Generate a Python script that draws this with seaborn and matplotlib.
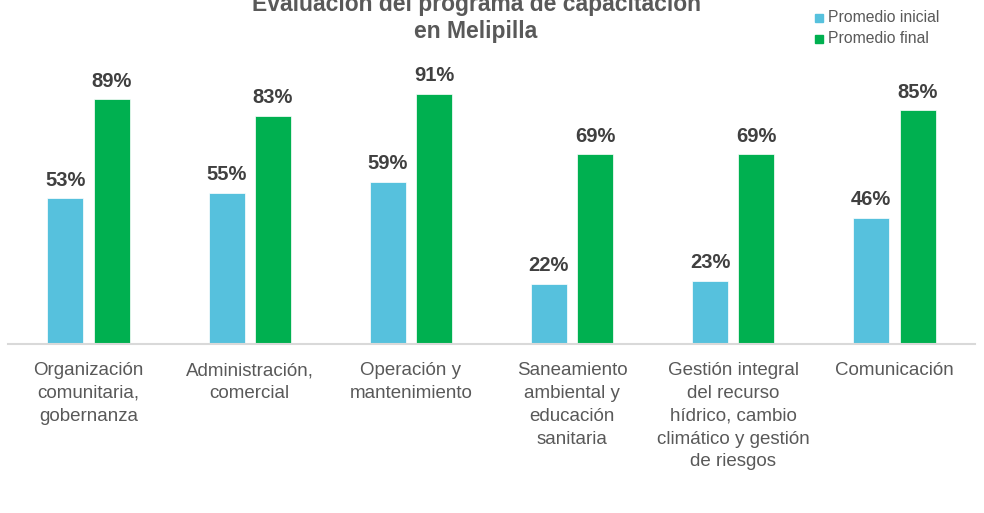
import matplotlib
matplotlib.use('Agg')
import matplotlib.pyplot as plt
import pandas as pd
import seaborn as sns

categorias = [
    'Organización\ncomunitaria,\ngobernanza',
    'Administración,\ncomercial',
    'Operación y\nmantenimiento',
    'Saneamiento\nambiental y\neducación\nsanitaria',
    'Gestión integral\ndel recurso\nhídrico, cambio\nclimático y gestión\nde riesgos',
    'Comunicación',
]
promedio_inicial = [0.53, 0.55, 0.59, 0.22, 0.23, 0.46]
promedio_final = [0.89, 0.83, 0.91, 0.69, 0.69, 0.85]
series = ['Promedio inicial', 'Promedio final']
colores = ['#56C1DD', '#00B050']

df = pd.DataFrame({
    'categoria': categorias * 2,
    'serie': [series[0]] * 6 + [series[1]] * 6,
    'valor': promedio_inicial + promedio_final,
})

sns.set_style('white')
plt.rcParams['font.family'] = ['Liberation Sans', 'DejaVu Sans']

fig = plt.figure(figsize=(9.84, 5.13), dpi=100)
ax = fig.add_axes([8 / 984, 1 - 344 / 513, 967 / 984, 275 / 513])

sns.barplot(data=df, x='categoria', y='valor', hue='serie', palette=colores,
            saturation=1, width=0.575, gap=0.22, edgecolor='white', linewidth=0.5,
            legend=False, ax=ax)

ax.set_ylim(0, 1.0)
ax.set_xlim(-0.5, 5.5)
for cont in ax.containers:
    ax.bar_label(cont, labels=[f'{v * 100:.0f}%' for v in cont.datavalues],
                 padding=6, fontsize=14.5, fontweight='bold', color='#404040')

ax.set_yticks([])
ax.set_xlabel('')
ax.set_ylabel('')
ax.tick_params(axis='x', length=0, pad=13, labelsize=13.5, labelcolor='#595959')
for lbl in ax.get_xticklabels():
    lbl.set_linespacing(1.45)
    lbl.set_verticalalignment('top')
for s in ['top', 'right', 'left']:
    ax.spines[s].set_visible(False)
ax.spines['bottom'].set_color('#D9D9D9')
ax.spines['bottom'].set_linewidth(1.5)

# el título queda recortado arriba, como en el original
fig.text(476 / 984, 1 - 18 / 513, 'Evaluación del programa de capacitación\nen Melipilla',
         ha='center', va='center', fontsize=16.5, fontweight='bold', color='#595959',
         linespacing=1.2)

# leyenda manual
for i, (nombre, col) in enumerate(zip(series, colores)):
    y = 1 - (18 + 21 * i) / 513
    fig.patches.append(plt.Rectangle((815 / 984, y - 4 / 513), 8 / 984, 8 / 513,
                                     transform=fig.transFigure, color=col, figure=fig))
    fig.text(828 / 984, y, nombre, ha='left', va='center', fontsize=11.3, color='#595959')

fig.savefig('out.png', dpi=100)
